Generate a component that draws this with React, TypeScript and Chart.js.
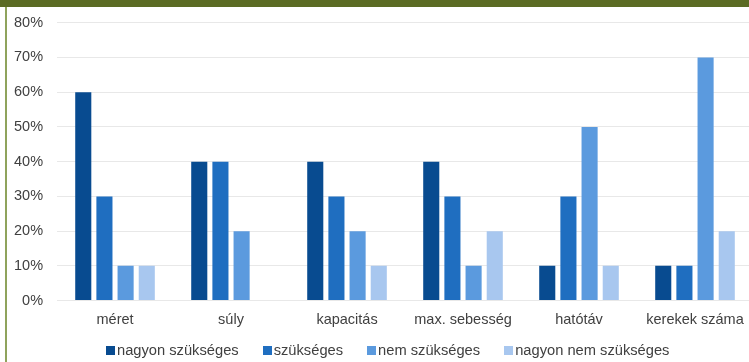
import React, { useEffect, useRef } from "react";
import { Chart, registerables } from "chart.js";

Chart.register(...registerables);

const categories = ["méret", "súly", "kapacitás", "max. sebesség", "hatótáv", "kerekek száma"];
const seriesNames = ["nagyon szükséges", "szükséges", "nem szükséges", "nagyon nem szükséges"];
const nagyonSzukseges = [60, 40, 40, 40, 10, 10];
const szukseges = [30, 40, 30, 30, 30, 10];
const nemSzukseges = [10, 20, 20, 10, 50, 70];
const nagyonNemSzukseges = [10, 0, 10, 20, 10, 20];
const seriesColors = ["#084b90", "#1f6ec0", "#5b9ade", "#a8c7ef"];
const yTicks = [0, 10, 20, 30, 40, 50, 60, 70, 80];

const FONT = "'Liberation Sans', Arial, sans-serif";

export default function App() {
  const ref = useRef<HTMLCanvasElement | null>(null);
  useEffect(() => {
    if (!ref.current) return;
    const values = [nagyonSzukseges, szukseges, nemSzukseges, nagyonNemSzukseges];
    const chart = new Chart(ref.current, {
      type: "bar",
      data: {
        labels: categories,
        datasets: seriesNames.map((name, i) => ({
          label: name,
          data: values[i],
          backgroundColor: seriesColors[i],
          categoryPercentage: 0.73,
          barPercentage: 0.76,
        })),
      },
      options: {
        animation: false,
        responsive: false,
        maintainAspectRatio: false,
        layout: { padding: { left: 0, right: 0, top: 14, bottom: 30 } },
        font: { family: FONT },
        plugins: {
          tooltip: { enabled: false },
          legend: { display: false },
        },
        scales: {
          x: {
            grid: { display: false },
            border: { display: false },
            ticks: {
              color: "#404040",
              padding: 3,
              font: { family: FONT, size: 14.5 },
            },
          },
          y: {
            min: 0,
            max: 80,
            afterBuildTicks: (axis: any) => {
              axis.ticks = yTicks.map((v) => ({ value: v }));
            },
            grid: { color: "#e8e8e8", drawTicks: false, lineWidth: 1 },
            border: { display: false },
            ticks: {
              color: "#404040",
              padding: 14,
              callback: (v: any) => v + "%",
              font: { family: FONT, size: 14.5 },
            },
          },
        },
      },
    });
    return () => chart.destroy();
  }, []);

  return (
    <div style={{ position: "fixed", left: 0, top: 0, width: 749, height: 362, background: "#fff", overflow: "hidden" }}>
      <canvas ref={ref} width={753} height={362} style={{ position: "absolute", left: 0, top: 0 }} />
      <div
        style={{
          position: "absolute",
          left: 106,
          top: 342,
          display: "flex",
          alignItems: "center",
          fontFamily: FONT,
          fontSize: 14.7,
          lineHeight: "17px",
          color: "#404040",
          whiteSpace: "nowrap",
        }}
      >
        {seriesNames.map((name, i) => (
          <div key={name} style={{ display: "flex", alignItems: "center", marginRight: 24 }}>
            <span style={{ display: "inline-block", width: 9, height: 9, background: seriesColors[i], marginRight: 2 }} />
            <span>{name}</span>
          </div>
        ))}
      </div>
      <div style={{ position: "absolute", left: 0, top: 0, width: 749, height: 7, background: "#5b6b24" }} />
      <div style={{ position: "absolute", left: 5, top: 7, width: 2, height: 355, background: "#8fa35c" }} />
    </div>
  );
}
